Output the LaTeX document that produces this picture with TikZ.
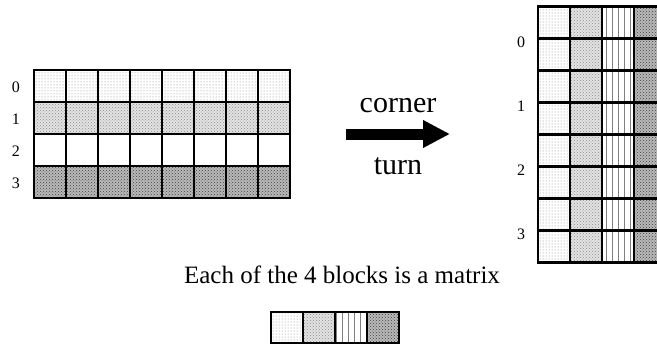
\documentclass[tikz,border=0pt]{standalone}
\usepackage{fontspec}
\setmainfont{Liberation Serif}
\usetikzlibrary{patterns,patterns.meta,arrows.meta}

\begin{document}
\begin{tikzpicture}[x=1pt, y=-1pt,
  cell/.style={draw=black, line width=2.6pt},
  dotcell/.style={cell, pattern=dots, pattern color=gray},
  lnoise/.style={cell, preaction={fill=gray!22}, pattern=crosshatch dots, pattern color=gray!90},
  dnoise/.style={cell, preaction={fill=gray!55}, pattern=crosshatch dots, pattern color=black!75},
  vline/.style={cell, pattern={Lines[angle=90, distance=6pt, line width=0.8pt]}, pattern color=gray},
  blank/.style={cell, fill=white},
  lbl/.style={font=\fontsize{16}{18}\selectfont},
  word/.style={font=\fontsize{30}{34}\selectfont}]
  \useasboundingbox (0,0) rectangle (657,346);
  \clip (0,0) rectangle (657,346);
  % row layout
  \foreach \r/\st in {0/dotcell,1/lnoise,2/blank,3/dnoise}
    \foreach \c in {0,...,7}
      \draw[\st] ({34+32*\c},{70+32*\r}) rectangle ++(32,32);
  \foreach \r in {0,...,3}
    \node[lbl] (lrow\r) at (16,{87+32*\r}) {\r};
  % arrow
  \coordinate (arrS) at (346,134);
  \coordinate (arrE) at (450,134);
  \draw[line width=11pt, -{Triangle[length=27pt,width=26pt]}] (arrS) -- (arrE);
  \node[word] (corner) at (398,106) {corner};
  \node[word] (turn) at (398,166) {turn};
  % column layout
  \foreach \c/\st in {0/dotcell,1/lnoise,2/vline,3/dnoise}
    \foreach \r in {0,...,7}
      \draw[\st] ({538+32*\c},{6.7+32*\r}) rectangle ++(32,32);
  \foreach \r in {0,...,3}
    \node[lbl] (rrow\r) at (521,{42+64*\r}) {\r};
  % one block
  \node[font=\fontsize{25}{29}\selectfont] (note) at (342,275) {Each of the 4 blocks is a matrix};
  \foreach \c/\st in {0/dotcell,1/lnoise,2/vline,3/dnoise}
    \draw[\st] ({271+32*\c},312) rectangle ++(32,31);
\end{tikzpicture}
\end{document}
